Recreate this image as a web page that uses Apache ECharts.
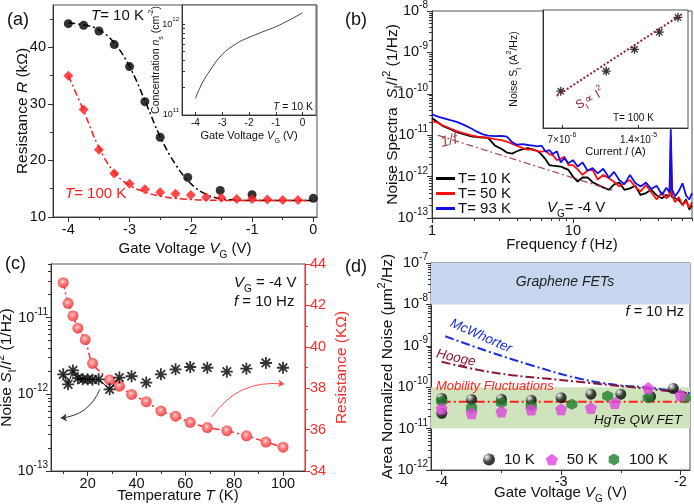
<!DOCTYPE html>
<html><head><meta charset="utf-8">
<script src="https://cdn.jsdelivr.net/npm/echarts@6/dist/echarts.min.js"></script>
<style>html,body{margin:0;padding:0;background:#fff}#c{width:694px;height:504px}</style>
</head><body><div id="c"></div>
<script>
// ---------- Panel (a) ----------
const vgA10 = [-4, -3.75, -3.5, -3.25, -3, -2.75, -2.5, -2.05, -1.52, -1, 0];
const r10K = [44.2, 43.9, 42.9, 40.5, 36.6, 30.4, 24.1, 17.0, 14.7, 13.95, 13.3];
const vgA100 = [-4, -3.75, -3.5, -3.25, -3, -2.75, -2.5, -2.25, -2, -1.75, -1.5, -1.25, -1, -0.75, -0.5, -0.25];
const r100K = [35.0, 29.0, 21.9, 17.7, 15.9, 14.9, 14.4, 14.1, 13.9, 13.5, 13.4, 13.2, 13.2, 13.1, 13.0, 13.0];
const fitVg = [-4, -3.75, -3.5, -3.25, -3, -2.75, -2.5, -2.25, -2, -1.75, -1.5, -1.25, -1, -0.5, 0];
const fit10K = [44.3, 44.0, 43.1, 40.8, 36.6, 30.6, 24.2, 19.3, 15.9, 14.0, 13.2, 13.0, 12.9, 12.9, 12.9];
const fit100K = [35.0, 28.8, 22.3, 17.9, 15.6, 14.4, 13.7, 13.3, 13.1, 13.0, 12.95, 12.9, 12.9, 12.9, 12.9];
const insetVg = [-4, -3.75, -3.45, -3.02, -2.46, -2, -1.48, -1, -0.49, 0];
const insetConc = [1.52e11, 2.23e11, 3.1e11, 4.56e11, 6.13e11, 7.13e11, 8.24e11, 9.35e11, 1.11e12, 1.33e12];
const ticksA = [-4, -3, -2, -1, 0];
const ticksR = [10, 20, 30, 40];

// ---------- Panel (b) ----------
const freq = [1, 1.1, 1.2, 1.35, 1.5, 1.7, 1.9, 2.1, 2.3, 2.5, 2.8, 3.1, 3.4, 3.7, 4, 4.4, 4.8, 5.2, 5.6, 6, 6.4, 6.8, 7.2, 7.7, 8.2, 8.7, 9.3, 10, 10.8, 11.7, 12.7, 13.8, 15, 16.4, 18, 19.6, 21.3, 23.2, 25.4, 27.7, 30.2, 33, 36, 39.3, 42.9, 46, 48.5, 49.5, 50.5, 53, 56.5, 60, 63.5, 67, 70];
const s10K = [2.6e-11, 2.05e-11, 1.65e-11, 1.4e-11, 1.18e-11, 1.05e-11, 9.4e-12, 9.0e-12, 8.8e-12, 8.6e-12, 5.6e-12, 4.7e-12, 3.8e-12, 3.6e-12, 4.1e-12, 4.6e-12, 4.9e-12, 4.4e-12, 4.2e-12, 3.4e-12, 2.6e-12, 1.9e-12, 1.85e-12, 1.8e-12, 1.75e-12, 1.6e-12, 1.45e-12, 1.0e-12, 7.6e-13, 9.5e-13, 9.6e-13, 7.3e-13, 6.3e-13, 5.5e-13, 4.8e-13, 6.5e-13, 7.2e-13, 4.8e-13, 5.2e-13, 6.0e-13, 3.6e-13, 4.0e-13, 4.8e-13, 3.5e-13, 3.0e-13, 3.6e-13, 3.3e-13, 2.5e-12, 3.2e-13, 3.0e-13, 2.7e-13, 2.1e-13, 2.8e-13, 1.6e-13, 2.0e-13];
const s50K = [2.2e-11, 2.0e-11, 1.7e-11, 1.45e-11, 1.26e-11, 1.1e-11, 9.9e-12, 9.2e-12, 9.0e-12, 8.6e-12, 8.0e-12, 7.6e-12, 7.0e-12, 6.2e-12, 5.6e-12, 4.9e-12, 4.5e-12, 4.6e-12, 4.1e-12, 4.0e-12, 4.2e-12, 3.5e-12, 3.3e-12, 2.5e-12, 2.7e-12, 3.0e-12, 1.9e-12, 1.9e-12, 1.5e-12, 1.1e-12, 1.4e-12, 1.45e-12, 8.5e-13, 1.1e-12, 9.1e-13, 7.5e-13, 5.8e-13, 7.0e-13, 8.3e-13, 5.6e-13, 4.4e-13, 6.3e-13, 4.2e-13, 2.8e-13, 4.2e-13, 3.0e-13, 3.5e-13, 9.0e-12, 3.6e-13, 2.4e-13, 3.2e-13, 2.0e-13, 2.6e-13, 1.75e-13, 2.4e-13];
const s93K = [3.2e-11, 2.8e-11, 2.6e-11, 2.3e-11, 2.1e-11, 1.75e-11, 1.45e-11, 1.2e-11, 1.05e-11, 9.8e-12, 9.5e-12, 9.6e-12, 9.2e-12, 6.8e-12, 5.9e-12, 6.1e-12, 5.8e-12, 5.6e-12, 5.4e-12, 5.6e-12, 4.0e-12, 4.4e-12, 3.5e-12, 4.1e-12, 2.2e-12, 2.8e-12, 2.1e-12, 2.5e-12, 1.75e-12, 2.2e-12, 1.4e-12, 1.6e-12, 1.2e-12, 1.55e-12, 9.5e-13, 1.3e-12, 8.3e-13, 6.5e-13, 1.1e-12, 7.0e-13, 5.8e-13, 7.2e-13, 5.0e-13, 6.0e-13, 3.6e-13, 5.4e-13, 4.2e-13, 1.4e-11, 5.0e-13, 3.3e-13, 4.5e-13, 6.9e-13, 3.5e-13, 2.8e-13, 4.0e-13];
const oneOverFf = [1.1, 19];
const oneOverFs = [1.0e-11, 4.7e-13];
const currentI = [6.93e-6, 1.045e-5, 1.35e-5, 1.69e-5, 2.0e-5];
const noiseSI = [2.53e-22, 4.2e-22, 7.27e-22, 1.12e-21, 1.63e-21];
const fitI = [6.68e-6, 2.07e-5];
const fitSI = [2.25e-22, 1.76e-21];

// ---------- Panel (c) ----------
const tempR = [10, 12, 14, 16, 19, 22, 29, 33, 38, 44, 50, 56, 62, 69, 77, 85, 93, 100];
const resistC = [43.1, 42.1, 41.5, 40.9, 40.35, 39.2, 38.4, 38.1, 37.7, 37.35, 36.9, 36.65, 36.35, 36.1, 35.95, 35.7, 35.4, 35.15];
const tempN = [10, 12, 14, 16, 18, 20, 22, 24.5, 29, 33, 38, 44, 50, 56, 62, 69, 77, 85, 93, 100];
const noiseC = [1.82e-12, 1.35e-12, 2.05e-12, 1.62e-12, 1.57e-12, 1.57e-12, 1.55e-12, 1.57e-12, 1.16e-12, 1.65e-12, 1.72e-12, 1.42e-12, 1.82e-12, 2.12e-12, 2.27e-12, 2.22e-12, 1.97e-12, 2.16e-12, 2.56e-12, 2.22e-12];
const arrowBlack = [[25, 1.16e-12], [9, 4.9e-13]];
const arrowRed = [[70.8, 36.6], [100.5, 38.2]];

// ---------- Panel (d) ----------
const vg10 = [-4, -4, -3.75, -3.5, -3.25, -3, -2.75, -2.5, -2.25, -2.06];
const an10 = [5.35e-11, 2.35e-11, 5.05e-11, 5.15e-11, 4.85e-11, 5.6e-11, 6.8e-11, 6.8e-11, 6.0e-11, 9.3e-11];
const vg50 = [-4, -3.75, -3.5, -3.25, -3, -2.75, -2.55, -2.27, -2.0];
const an50 = [3.05e-11, 2.35e-11, 2.6e-11, 2.9e-11, 2.95e-11, 3.15e-11, 4.15e-11, 9.5e-11, 6.4e-11];
const vg100 = [-4, -3.75, -3.5, -3.25, -2.91, -2.61, -2.27, -1.96];
const an100 = [4.6e-11, 3.2e-11, 4.2e-11, 3.6e-11, 3.9e-11, 6.1e-11, 5.5e-11, 5.5e-11];
const mcwV = [-3.97, -3.64, -3.25, -2.85, -2.52, -2.30, -1.92];
const mcwN = [1.7e-9, 7.8e-10, 3.4e-10, 1.62e-10, 1.12e-10, 1.0e-10, 7.1e-11];
const hoogeV = [-4, -3.69, -3.41, -3.13, -2.85, -2.58, -2.30, -1.92];
const hoogeN = [4.1e-10, 2.6e-10, 1.95e-10, 1.62e-10, 1.35e-10, 1.12e-10, 9.3e-11, 7.1e-11];
const mobV = [-4, -1.92];
const mobN = [4.45e-11, 4.45e-11];
const grapheneBand = [1e-8, 1e-7];
const hgteBand = [1e-11, 1e-10];

// ---------- helpers ----------
const FONT = '"Liberation Sans", Arial, Helvetica, sans-serif';
const AX = '#333';
const zip = (a, b) => a.map((v, i) => [v, b[i]]);
function merge(a, b) {
  const out = Object.assign({}, a);
  for (const k in b) {
    const bv = b[k];
    if (bv && typeof bv === 'object' && !Array.isArray(bv) && typeof bv !== 'function' && a[k] && typeof a[k] === 'object') out[k] = merge(a[k], bv);
    else out[k] = bv;
  }
  return out;
}
function nr(size, color) {
  color = color || '#111';
  const s2 = Math.round(size * 0.68);
  return {
    n: {fontSize: size, fontFamily: FONT, color, fill: color, lineHeight: size + 7},
    i: {fontSize: size, fontFamily: FONT, fontStyle: 'italic', color, fill: color, lineHeight: size + 7},
    sub: {fontSize: s2, fontFamily: FONT, color, fill: color, lineHeight: Math.round(size * 0.6), verticalAlign: 'bottom'},
    sup: {fontSize: s2, fontFamily: FONT, color, fill: color, lineHeight: Math.round(size * 0.6), verticalAlign: 'top'}
  };
}
const logFmt = v => '{n|10}{sup|' + Math.round(Math.log10(v)) + '}';
function ax(o) {
  return merge({
    axisLine: {show: true, onZero: false, lineStyle: {color: AX, width: 1}},
    axisTick: {show: true, inside: false, length: 5, lineStyle: {color: AX, width: 1}},
    axisLabel: {show: true, inside: false, color: '#111', fontSize: 14.5, fontFamily: FONT, margin: 5},
    splitLine: {show: false},
    nameLocation: 'middle',
    nameMoveOverlap: false,
    nameTextStyle: {fontFamily: FONT}
  }, o);
}
function minorAx(gridIndex, type, min, max, vals, position, inside, color) {
  const a = {gridIndex, type, min, max, position, axisLine: {show: false, onZero: false}, axisLabel: {show: false}, splitLine: {show: false},
    axisTick: {show: true, inside: !!inside, length: 3, customValues: vals, lineStyle: {color: color || AX}}};
  if (type === 'log') a.logBase = 10;
  return a;
}
function logMinors(d0, d1, lo, hi) {
  const out = [];
  for (let d = d0; d <= d1; d++) for (let m = 2; m <= 9; m++) { const v = m * Math.pow(10, d); if (v > lo && v < hi) out.push(+v.toPrecision(3)); }
  return out;
}
function grid(left, top, width, height, bg) {
  return {left, top, width, height, show: true, borderColor: '#555', borderWidth: 1, backgroundColor: bg || 'transparent', containLabel: false, outerBoundsMode: 'none'};
}
function gt(x, y, text, size, color, opt) {
  opt = opt || {};
  return {type: 'text', x, y, rotation: opt.rot || 0, silent: true, z: 100,
    style: {text, rich: nr(size, color), fill: color, fontSize: size, fontFamily: FONT, align: opt.align || 'left', verticalAlign: 'middle'}};
}
const starPath = 'path://M-1.5,-10L1.5,-10L1.5,10L-1.5,10Z M-10,-1.5L10,-1.5L10,1.5L-10,1.5Z M6.01,8.13L-8.13,-6.01L-6.01,-8.13L8.13,6.01Z M8.13,-6.01L-6.01,8.13L-8.13,6.01L6.01,-8.13Z';
const pentPath = 'path://M0,-10L9.51,-3.09L5.88,8.09L-5.88,8.09L-9.51,-3.09Z';
const hexPath = 'path://M0,-10L8.66,-5L8.66,5L0,10L-8.66,5L-8.66,-5Z';
const blackSphere = new echarts.graphic.RadialGradient(0.32, 0.3, 0.7, [
  {offset: 0, color: '#ffffff'}, {offset: 0.25, color: '#999'}, {offset: 0.6, color: '#151515'}, {offset: 1, color: '#000'}]);
const redSphere = new echarts.graphic.RadialGradient(0.45, 0.42, 0.65, [
  {offset: 0, color: '#ffe0e0'}, {offset: 0.35, color: '#ff7a7a'}, {offset: 1, color: '#e82828'}]);
const DASHDOT = [7, 3, 2, 3];

const chart = echarts.init(document.getElementById('c'), null, {renderer: 'canvas'});
const option = {
  animation: false,
  backgroundColor: '#fff',
  grid: [
    grid(53, 5, 264, 212),
    grid(182, 5, 134, 110, '#fff'),
    grid(432, 11, 260, 207),
    grid(543, 10, 145, 118, '#fff'),
    grid(51, 264, 254, 207),
    grid(431, 263, 259, 207)
  ],
  xAxis: [
    ax({gridIndex: 0, type: 'value', min: -4.25, max: 0.06,
      axisLabel: {customValues: ticksA, formatter: v => String(v)}, axisTick: {customValues: ticksA},
      name: '{n|Gate Voltage }{i|V}{sub|G}{n| (V)}', nameGap: 21, nameTextStyle: {rich: nr(15)}}),
    ax({gridIndex: 1, type: 'value', min: -4.5, max: 0.5,
      axisLabel: {customValues: ticksA, formatter: v => String(v), fontSize: 10, margin: 3}, axisTick: {customValues: ticksA, inside: true, length: 3},
      name: '{n|Gate Voltage }{i|V}{sub|G}{n| (V)}', nameGap: 12, nameTextStyle: {rich: nr(11)}}),
    ax({gridIndex: 2, type: 'log', logBase: 10, min: 1, max: 70,
      axisLabel: {customValues: [1, 10], formatter: v => String(Math.round(v))}, axisTick: {customValues: [1, 10]},
      name: '{n|Frequency }{i|f}{n| (Hz)}', nameGap: 16, nameTextStyle: {rich: nr(15)}}),
    ax({gridIndex: 3, type: 'log', logBase: 10, min: 5.9e-6, max: 2.19e-5,
      axisLabel: {customValues: [7e-6, 1.4e-5], formatter: v => v < 1e-5 ? '{n|7×10}{sup|-6}' : '{n|1.4×10}{sup|-5}', rich: nr(10), margin: 4},
      axisTick: {customValues: [7e-6, 1.4e-5], inside: true, length: 3},
      name: '{n|Current }{i|I}{n| (A)}', nameGap: 15, nameTextStyle: {rich: nr(11)}}),
    ax({gridIndex: 4, type: 'value', min: 5, max: 109,
      axisLabel: {customValues: [20, 40, 60, 80, 100]}, axisTick: {customValues: [20, 40, 60, 80, 100]},
      name: '{n|Temperature }{i|T}{n| (K)}', nameGap: 14, nameTextStyle: {rich: nr(15)}}),
    ax({gridIndex: 5, type: 'value', min: -4.09, max: -1.92,
      axisLabel: {customValues: [-4, -3, -2], formatter: v => String(v), margin: 4}, axisTick: {customValues: [-4, -3, -2]},
      name: '{n|Gate Voltage }{i|V}{sub|G}{n| (V)}', nameGap: 12, nameTextStyle: {rich: nr(15)}}),
    minorAx(0, 'value', -4.25, 0.06, [-3.5, -2.5, -1.5, -0.5], 'bottom'),
    minorAx(2, 'log', 1, 70, [2, 3, 4, 5, 6, 7, 8, 9, 20, 30, 40, 50, 60, 70], 'bottom'),
    minorAx(4, 'value', 5, 109, [10, 30, 50, 70, 90], 'bottom'),
    minorAx(5, 'value', -4.09, -1.92, [-3.5, -2.5], 'bottom')
  ],
  yAxis: [
    ax({gridIndex: 0, type: 'value', min: 10, max: 47.5,
      axisLabel: {customValues: ticksR, margin: 7}, axisTick: {customValues: ticksR},
      name: '{n|Resistance }{i|R}{n| (kΩ)}', nameGap: 19, nameTextStyle: {rich: nr(15.5)}}),
    ax({gridIndex: 1, type: 'log', logBase: 10, min: 1e11, max: 1.62e12,
      axisLabel: {customValues: [1e11, 1e12], formatter: logFmt, rich: nr(9), margin: 3},
      axisTick: {customValues: [1e11, 1e12], inside: true, length: 3},
      name: '{n|Concentration }{i|n}{sub|s}{n| (cm}{sup|-2}{n|)}', nameGap: 17, nameTextStyle: {rich: nr(10.5)}}),
    ax({gridIndex: 2, type: 'log', logBase: 10, min: 1e-13, max: 1e-8,
      axisLabel: {customValues: [1e-13, 1e-12, 1e-11, 1e-10, 1e-9, 1e-8], formatter: logFmt, rich: nr(14.5), margin: 4},
      axisTick: {customValues: [1e-13, 1e-12, 1e-11, 1e-10, 1e-9, 1e-8]},
      name: '{n|Noise Spectra  }{i|S}{sub|I}{n|/}{i|I}{sup|2}{n| (1/Hz)}', nameGap: 28, nameTextStyle: {rich: nr(15.5)}}),
    ax({gridIndex: 3, type: 'log', logBase: 10, min: 1e-22, max: 1.96e-21,
      axisLabel: {customValues: [1e-22, 1e-21], formatter: logFmt, rich: nr(9.5), margin: 3},
      axisTick: {customValues: [1e-22, 1e-21], inside: true, length: 3},
      name: '{n|Noise S}{sub|I}{n| (A}{sup|2}{n|/Hz)}', nameGap: 20, nameTextStyle: {rich: nr(10.5)}}),
    ax({gridIndex: 4, type: 'log', logBase: 10, min: 1e-13, max: 5e-11,
      axisLabel: {customValues: [1e-13, 1e-12, 1e-11], formatter: logFmt, rich: nr(14.5), margin: 3},
      axisTick: {customValues: [1e-13, 1e-12, 1e-11]},
      name: '{n|Noise }{i|S}{sub|I}{n|/}{i|I}{sup|2}{n| (1/Hz)}', nameGap: 33, nameTextStyle: {rich: nr(15.5)}}),
    ax({gridIndex: 4, type: 'value', position: 'right', min: 34, max: 44, interval: 2,
      axisLine: {lineStyle: {color: '#ff2a2a'}}, axisTick: {lineStyle: {color: '#ff2a2a'}},
      axisLabel: {color: '#ff2a2a', margin: 5},
      name: '{n|Resistance (KΩ)}', nameGap: 25, nameTextStyle: {rich: nr(15.5, '#ff2a2a')}}),
    ax({gridIndex: 5, type: 'log', logBase: 10, min: 1e-12, max: 1e-7,
      axisLabel: {customValues: [1e-12, 1e-11, 1e-10, 1e-9, 1e-8, 1e-7], formatter: logFmt, rich: nr(14.5), margin: 3},
      axisTick: {customValues: [1e-12, 1e-11, 1e-10, 1e-9, 1e-8, 1e-7]},
      name: '{n|Area Normalized Noise (μm}{sup|2}{n|/Hz)}', nameGap: 32, nameTextStyle: {rich: nr(15.5)}}),
    minorAx(0, 'value', 10, 47.5, [15, 25, 35, 45], 'left'),
    minorAx(1, 'log', 1e11, 1.62e12, logMinors(11, 11, 1e11, 1.62e12), 'left', true),
    minorAx(2, 'log', 1e-13, 1e-8, logMinors(-13, -9, 1e-13, 1e-8), 'left'),
    minorAx(4, 'log', 1e-13, 5e-11, logMinors(-13, -11, 1e-13, 5e-11), 'left'),
    minorAx(4, 'value', 34, 44, [35, 37, 39, 41, 43], 'right', false, '#ff2a2a'),
    minorAx(5, 'log', 1e-12, 1e-7, logMinors(-12, -8, 1e-12, 1e-7), 'left'),
    minorAx(3, 'log', 1e-22, 1.96e-21, logMinors(-22, -22, 1e-22, 1.96e-21), 'left', true)
  ],
  legend: [
    {data: ['T= 10 K', 'T= 50 K', 'T= 93 K'], orient: 'vertical', left: 436, top: 171, padding: 0,
      icon: 'rect', itemWidth: 19, itemHeight: 3, itemGap: 0, selectedMode: false,
      textStyle: {fontSize: 15, fontFamily: FONT, color: '#111', lineHeight: 14.6, padding: [0, 0, 0, -2]}},
    {data: ['10 K', '50 K', '100 K'], orient: 'horizontal', left: 483, top: 452, padding: 0,
      itemWidth: 12, itemHeight: 12, itemGap: 11, selectedMode: false,
      textStyle: {fontSize: 15, fontFamily: FONT, color: '#111', padding: [0, 0, 0, 4]}}
  ],
  series: [
    // (a)
    {type: 'line', xAxisIndex: 0, yAxisIndex: 0, data: zip(fitVg, fit10K), smooth: 0.4, symbol: 'none',
      lineStyle: {color: '#000', width: 1.5, type: DASHDOT}, z: 2},
    {type: 'line', xAxisIndex: 0, yAxisIndex: 0, data: zip(fitVg, fit100K), smooth: 0.4, symbol: 'none',
      lineStyle: {color: '#ff1a1a', width: 1.5, type: DASHDOT}, z: 2},
    {type: 'scatter', xAxisIndex: 0, yAxisIndex: 0, data: zip(vgA10, r10K), symbol: 'circle', symbolSize: 9,
      itemStyle: {color: '#000'}, z: 3},
    {type: 'scatter', xAxisIndex: 0, yAxisIndex: 0, data: zip(vgA100, r100K), symbol: 'diamond', symbolSize: 10,
      itemStyle: {color: '#ff1a1a'}, z: 3},
    {type: 'line', xAxisIndex: 1, yAxisIndex: 1, data: zip(insetVg, insetConc), smooth: 0.4, symbol: 'none',
      lineStyle: {color: '#444', width: 1}},
    // (b)
    {type: 'line', name: 'T= 10 K', xAxisIndex: 2, yAxisIndex: 2, data: zip(freq, s10K), symbol: 'none',
      lineStyle: {color: '#000', width: 1.8}, itemStyle: {color: '#000'}},
    {type: 'line', name: 'T= 50 K', xAxisIndex: 2, yAxisIndex: 2, data: zip(freq, s50K), symbol: 'none',
      lineStyle: {color: '#ff1010', width: 1.8}, itemStyle: {color: '#ff1010'}},
    {type: 'line', name: 'T= 93 K', xAxisIndex: 2, yAxisIndex: 2, data: zip(freq, s93K), symbol: 'none',
      lineStyle: {color: '#1010ee', width: 1.8}, itemStyle: {color: '#1010ee'}},
    {type: 'line', xAxisIndex: 2, yAxisIndex: 2, data: zip(oneOverFf, oneOverFs), symbol: 'none',
      lineStyle: {color: '#a8424e', width: 1.2, type: DASHDOT}},
    {type: 'line', xAxisIndex: 3, yAxisIndex: 3, data: zip(fitI, fitSI), symbol: 'none',
      lineStyle: {color: '#8e1f36', width: 2, type: [2, 2]}},
    {type: 'scatter', xAxisIndex: 3, yAxisIndex: 3, data: zip(currentI, noiseSI), symbol: starPath, symbolSize: 9,
      itemStyle: {color: '#000'}},
    // (c)
    {type: 'line', xAxisIndex: 4, yAxisIndex: 4, data: zip(tempN.slice(0, 10), noiseC.slice(0, 10)), symbol: 'none',
      lineStyle: {color: '#000', width: 1}},
    {type: 'scatter', xAxisIndex: 4, yAxisIndex: 4, data: zip(tempN, noiseC), symbol: starPath, symbolSize: 12,
      itemStyle: {color: '#000'}, z: 4},
    {type: 'line', xAxisIndex: 4, yAxisIndex: 5, data: zip(tempR, resistC), smooth: 0.3, symbol: 'circle', symbolSize: 11,
      itemStyle: {color: redSphere, opacity: 0.9}, lineStyle: {color: '#ff2a2a', width: 1.5, type: DASHDOT}, z: 3},
    {type: 'lines', coordinateSystem: 'cartesian2d', xAxisIndex: 4, yAxisIndex: 4, data: [{coords: arrowBlack}],
      symbol: ['none', 'arrow'], symbolSize: 6, lineStyle: {color: '#333', width: 1, curveness: 0.3, opacity: 1}, silent: true},
    {type: 'lines', coordinateSystem: 'cartesian2d', xAxisIndex: 4, yAxisIndex: 5, data: [{coords: arrowRed}],
      symbol: ['none', 'arrow'], symbolSize: 6, lineStyle: {color: '#ff5050', width: 1, curveness: 0.3, opacity: 1}, silent: true},
    // (d)
    {type: 'line', xAxisIndex: 5, yAxisIndex: 6, data: zip(mobV, mobN), symbol: 'none',
      lineStyle: {color: '#ff1f1f', width: 2, type: [9, 3, 2, 3]}, z: 3,
      markArea: {silent: true, z: 1, data: [
        [{yAxis: grapheneBand[0], itemStyle: {color: '#c8d5ee', opacity: 1}}, {yAxis: grapheneBand[1]}],
        [{yAxis: hgteBand[0], itemStyle: {color: '#cfe3bd', opacity: 1}}, {yAxis: hgteBand[1]}]
      ]}},
    {type: 'line', xAxisIndex: 5, yAxisIndex: 6, data: zip(mcwV, mcwN), smooth: 0.4, symbol: 'none',
      lineStyle: {color: '#1a2fd8', width: 2, type: [9, 3, 2, 3]}, z: 3},
    {type: 'line', xAxisIndex: 5, yAxisIndex: 6, data: zip(hoogeV, hoogeN), smooth: 0.4, symbol: 'none',
      lineStyle: {color: '#8a1830', width: 2, type: [9, 3, 2, 3]}, z: 3},
    {type: 'scatter', name: '10 K', xAxisIndex: 5, yAxisIndex: 6, data: zip(vg10, an10), symbol: 'circle', symbolSize: 11,
      itemStyle: {color: blackSphere}, z: 4},
    {type: 'scatter', name: '50 K', xAxisIndex: 5, yAxisIndex: 6, data: zip(vg50, an50), symbol: pentPath, symbolSize: 12,
      itemStyle: {color: '#de45de'}, z: 5},
    {type: 'scatter', name: '100 K', xAxisIndex: 5, yAxisIndex: 6, data: zip(vg100, an100), symbol: hexPath, symbolSize: 11,
      itemStyle: {color: '#1f7d2d'}, z: 4}
  ],
  graphic: [
    gt(7, 20, '{n|(a)}', 18, '#111'),
    gt(91, 16, '{i|T}{n|= 10 K}', 15, '#111'),
    gt(65, 194, '{i|T}{n|= 100 K}', 15, '#ff1a1a'),
    gt(313, 107, '{i|T}{n| = 10 K}', 10.5, '#111', {align: 'right'}),
    gt(345, 20, '{n|(b)}', 18, '#111'),
    gt(441, 143, '{i|1/f}', 15, '#a8424e', {rot: 0.25}),
    gt(547, 208, '{i|V}{sub|G}{n|= -4 V}', 15, '#111'),
    gt(613, 118, '{n|T= 100 K}', 10, '#111'),
    gt(590, 99, '{n|S}{sub|I}{n|∝ I}{sup|2}', 12, '#8e1f36', {align: 'center', rot: 0.5}),
    gt(5, 264, '{n|(c)}', 18, '#111'),
    gt(234, 283, '{i|V}{sub|G}{n| = -4 V}', 15, '#111'),
    gt(234, 302, '{i|f}{n| = 10 Hz}', 15, '#111'),
    gt(345, 267, '{n|(d)}', 18, '#111'),
    gt(565, 282, '{i|Graphene FETs}', 14, '#222', {align: 'center'}),
    gt(684, 312, '{i|f}{n| = 10 Hz}', 14.5, '#111', {align: 'right'}),
    gt(481, 336, '{i|McWhorter}', 13.5, '#1a2fd8', {align: 'center', rot: -0.42}),
    gt(456, 358, '{i|Hooge}', 13.5, '#8a1830', {align: 'center', rot: -0.22}),
    gt(436, 386, '{i|Mobility Fluctuations}', 13, '#ff1f1f'),
    gt(682, 420, '{i|HgTe QW FET}', 13.5, '#111', {align: 'right'})
  ]
};
chart.setOption(option);
</script></body></html>
